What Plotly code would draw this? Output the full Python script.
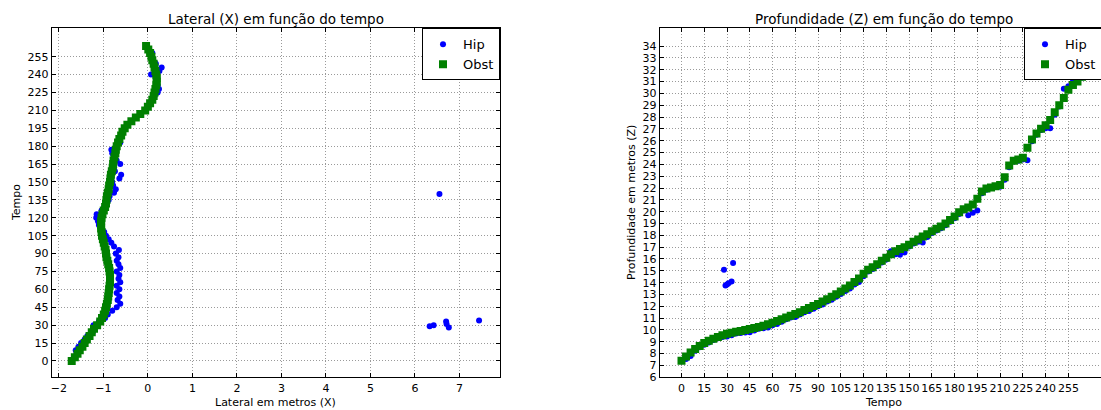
import plotly.graph_objects as go

# ---------------- data ----------------
time = [0, 3, 6, 9, 12, 15, 18, 21, 24, 27, 30, 33, 36, 39, 42, 45, 48, 51, 54, 57,
        60, 63, 66, 69, 72, 75, 78, 81, 84, 87, 90, 93, 96, 99, 102, 105, 108, 111, 114, 117,
        120, 123, 126, 129, 132, 135, 138, 141, 144, 147, 150, 153, 156, 159, 162, 165, 168, 171, 174, 177,
        180, 183, 186, 189, 192, 195, 198, 201, 204, 207, 210, 213, 216, 219, 222, 225, 228, 231, 234, 237,
        240, 243, 246, 249, 252, 255, 258, 261, 264]

# Obst (green) lateral X
obst_x = [-1.71, -1.64, -1.58, -1.53, -1.47, -1.42, -1.37, -1.31, -1.26, -1.21,
          -1.14, -1.07, -1.03, -0.99, -0.96, -0.94, -0.92, -0.90, -0.89, -0.88,
          -0.87, -0.86, -0.85, -0.85, -0.85, -0.86, -0.87, -0.89, -0.91, -0.93,
          -0.94, -0.95, -0.97, -0.99, -1.01, -1.03, -1.04, -1.05, -1.05, -1.05,
          -1.04, -1.02, -0.99, -0.96, -0.94, -0.93, -0.92, -0.90, -0.88, -0.87,
          -0.85, -0.84, -0.83, -0.81, -0.79, -0.78, -0.77, -0.75, -0.73, -0.72,
          -0.70, -0.67, -0.64, -0.60, -0.57, -0.52, -0.46, -0.37, -0.27, -0.17,
          -0.06, 0.00, 0.05, 0.10, 0.13, 0.15, 0.17, 0.19, 0.20, 0.20,
          0.19, 0.17, 0.15, 0.13, 0.10, 0.08, 0.05, 0.01, -0.04]

# Obst (green) depth Z
obst_z = [7.40, 7.75, 8.10, 8.40, 8.65, 8.90, 9.10, 9.25, 9.40, 9.55,
          9.68, 9.76, 9.84, 9.92, 10.00, 10.08, 10.16, 10.26, 10.36, 10.48,
          10.62, 10.75, 10.90, 11.05, 11.20, 11.35, 11.50, 11.68, 11.85, 12.02,
          12.20, 12.40, 12.60, 12.80, 13.02, 13.25, 13.50, 13.75, 14.05, 14.35,
          14.75, 15.10, 15.30, 15.55, 15.85, 16.10, 16.40, 16.65, 16.85, 17.00,
          17.20, 17.45, 17.65, 17.90, 18.10, 18.35, 18.55, 18.75, 19.00, 19.30,
          19.60, 19.95, 20.20, 20.35, 20.60, 21.10, 21.70, 21.95, 22.05, 22.15,
          22.25, 22.90, 23.90, 24.30, 24.40, 24.55, 25.40, 26.10, 26.60, 27.00,
          27.30, 27.75, 28.40, 29.00, 29.60, 30.30, 30.70, 31.00, 31.40]

# Hip (blue) lateral X
hip_x = [-1.72, -1.66, -1.60, -1.62, -1.56, -1.50, -1.42, -1.36, -1.24, -1.20,
         -1.22, -1.10, -0.96, -0.90, -0.80, -0.70, -0.62, -0.68, -0.64, -0.70,
         -0.64, -0.70, -0.62, -0.66, -0.64, -0.70, -0.62, -0.66, -0.70, -0.66,
         -0.72, -0.65, -0.76, -0.82, -0.88, -0.94, -0.98, -1.04, -1.10, -1.12,
         -1.16, -1.15, -1.04, -0.98, -0.96, -0.88, -0.86, -0.76, -0.72, -0.78,
         -0.80, -0.64, -0.60, -0.74, -0.76, -0.62, -0.70, -0.74, -0.80, -0.82,
         -0.72, -0.62, -0.64, -0.60, -0.56, -0.52, -0.46, -0.37, -0.27, -0.16,
         -0.05, 0.01, 0.06, 0.11, 0.15, 0.22, 0.25, 0.22, 0.20, 0.18,
         0.07, 0.26, 0.31, 0.18, 0.12, 0.07, 0.10, 0.03, -0.02]

# Hip (blue) depth Z
hip_z = [7.35, 7.55, 7.80, 8.25, 8.55, 8.75, 8.95, 9.15, 9.30, 9.40,
         9.45, 9.55, 9.70, 9.75, 9.78, 9.80, 9.95, 10.10, 10.15, 10.20,
         10.40, 10.50, 10.70, 10.90, 11.05, 11.10, 11.30, 11.50, 11.60, 11.80,
         12.00, 12.15, 12.40, 12.55, 12.80, 13.05, 13.30, 13.50, 13.85, 14.05,
         14.55, 14.95, 15.15, 15.40, 15.70, 15.95, 16.65, 16.40, 16.35, 16.55,
         17.05, 17.30, 17.45, 17.40, 17.85, 18.20, 18.40, 18.60, 18.85, 19.15,
         19.45, 19.80, 20.10, 19.70, 19.90, 20.10, 21.55, 21.85, 22.00, 22.10,
         22.10, 22.70, 23.75, 24.25, 24.30, 24.40, 24.35, 25.95, 26.50, 26.90,
         27.05, 27.05, 28.20, 28.90, 30.40, 30.60, 31.00, 31.10, 31.35]

# Hip outliers
out_time = [28, 29, 30, 31, 33, 34, 140]
out_x = [6.76, 6.33, 6.42, 6.71, 6.70, 7.44, 6.55]
out_z = [15.10, 13.75, 13.85, 13.95, 14.10, 15.66, 16.40]

# tick labels
x1_ticks = [-2, -1, 0, 1, 2, 3, 4, 5, 6, 7]
time_ticks = [0, 15, 30, 45, 60, 75, 90, 105, 120, 135, 150, 165, 180, 195, 210, 225, 240, 255]
z_ticks = [6, 7, 8, 9, 10, 11, 12, 13, 14, 15, 16, 17, 18, 19, 20, 21, 22, 23, 24, 25,
           26, 27, 28, 29, 30, 31, 32, 33, 34]

titles = ["Lateral (X) em função do tempo", "Profundidade (Z) em função do tempo"]
xlabels = ["Lateral em metros (X)", "Tempo"]
ylabels = ["Tempo", "Profundidade em metros (Z)"]

# ---------------- figure ----------------
W, H = 1101, 410
FONT = "DejaVu Sans"
BLUE = "#0000ff"
GREEN = "#008000"

hip_t_all = time + out_time
hip_x_all = hip_x + out_x
hip_z_all = hip_z + out_z

fig = go.Figure()
fig.add_trace(go.Scatter(x=hip_x_all, y=hip_t_all, mode="markers", name="Hip",
                         marker=dict(color=BLUE, size=6, symbol="circle", line=dict(width=0)),
                         xaxis="x", yaxis="y", legend="legend"))
fig.add_trace(go.Scatter(x=obst_x, y=time, mode="markers", name="Obst",
                         marker=dict(color=GREEN, size=8, symbol="square", line=dict(width=0)),
                         xaxis="x", yaxis="y", legend="legend"))
fig.add_trace(go.Scatter(x=hip_t_all, y=hip_z_all, mode="markers", name="Hip",
                         marker=dict(color=BLUE, size=6, symbol="circle", line=dict(width=0)),
                         xaxis="x2", yaxis="y2", legend="legend2"))
fig.add_trace(go.Scatter(x=time, y=obst_z, mode="markers", name="Obst",
                         marker=dict(color=GREEN, size=8, symbol="square", line=dict(width=0)),
                         xaxis="x2", yaxis="y2", legend="legend2"))

ax_common = dict(showline=True, linecolor="black", linewidth=1,
                 ticks="inside", ticklen=4, tickcolor="black", tickwidth=1,
                 showgrid=True, gridcolor="#9a9a9a", griddash="1px,2px", gridwidth=1,
                 zeroline=False, tickangle=0,
                 tickfont=dict(family=FONT, size=11, color="black"))

L1, R1 = 51.7, 500.0
L2 = 659.8
TOP, BOT = 28.3, 377.3
ydom = [1 - BOT / H, 1 - TOP / H]

fig.update_layout(
    width=W, height=H,
    margin=dict(l=0, r=0, t=0, b=0, autoexpand=False),
    paper_bgcolor="white", plot_bgcolor="white",
    font=dict(family=FONT, color="black"),
    xaxis=dict(domain=[L1 / W, R1 / W], range=[-2.16, 7.91], tickvals=x1_ticks,
               anchor="y", mirror="ticks", **ax_common),
    yaxis=dict(domain=ydom, range=[-13.7, 278.8], tickvals=time_ticks,
               anchor="x", mirror="ticks", **ax_common),
    xaxis2=dict(domain=[L2 / W, 1.0], range=[-14.3, 276.5], tickvals=time_ticks,
                anchor="y2", mirror="ticks", **ax_common),
    yaxis2=dict(domain=ydom, range=[6, 35.5], tickvals=z_ticks,
                anchor="x2", mirror=False, **ax_common),
    legend=dict(x=R1 / W, xanchor="right", y=1 - TOP / H, yanchor="top",
                bgcolor="white", bordercolor="black", borderwidth=1,
                font=dict(family=FONT, size=13, color="black"), tracegroupgap=0),
    legend2=dict(x=1024 / W, xanchor="left", y=1 - TOP / H, yanchor="top",
                 bgcolor="white", bordercolor="black", borderwidth=1,
                 font=dict(family=FONT, size=13, color="black"), tracegroupgap=0),
)

ann = []
cx1 = (L1 + R1) / 2
cx2 = (L2 + 1108) / 2
for cx, t in zip([cx1, cx2], titles):
    ann.append(dict(text=t, x=cx / W, y=1 - 19 / H, xref="paper", yref="paper",
                    xanchor="center", yanchor="middle", showarrow=False,
                    font=dict(family=FONT, size=13.5, color="black")))
for cx, t in zip([cx1, cx2], xlabels):
    ann.append(dict(text=t, x=cx / W, y=1 - 402 / H, xref="paper", yref="paper",
                    xanchor="center", yanchor="middle", showarrow=False,
                    font=dict(family=FONT, size=11, color="black")))
for px, t in zip([16, 631], ylabels):
    ann.append(dict(text=t, x=px / W, y=1 - 203 / H, xref="paper", yref="paper",
                    xanchor="center", yanchor="middle", showarrow=False, textangle=-90,
                    font=dict(family=FONT, size=11, color="black")))
fig.update_layout(annotations=ann)

fig.write_html("out.html")
